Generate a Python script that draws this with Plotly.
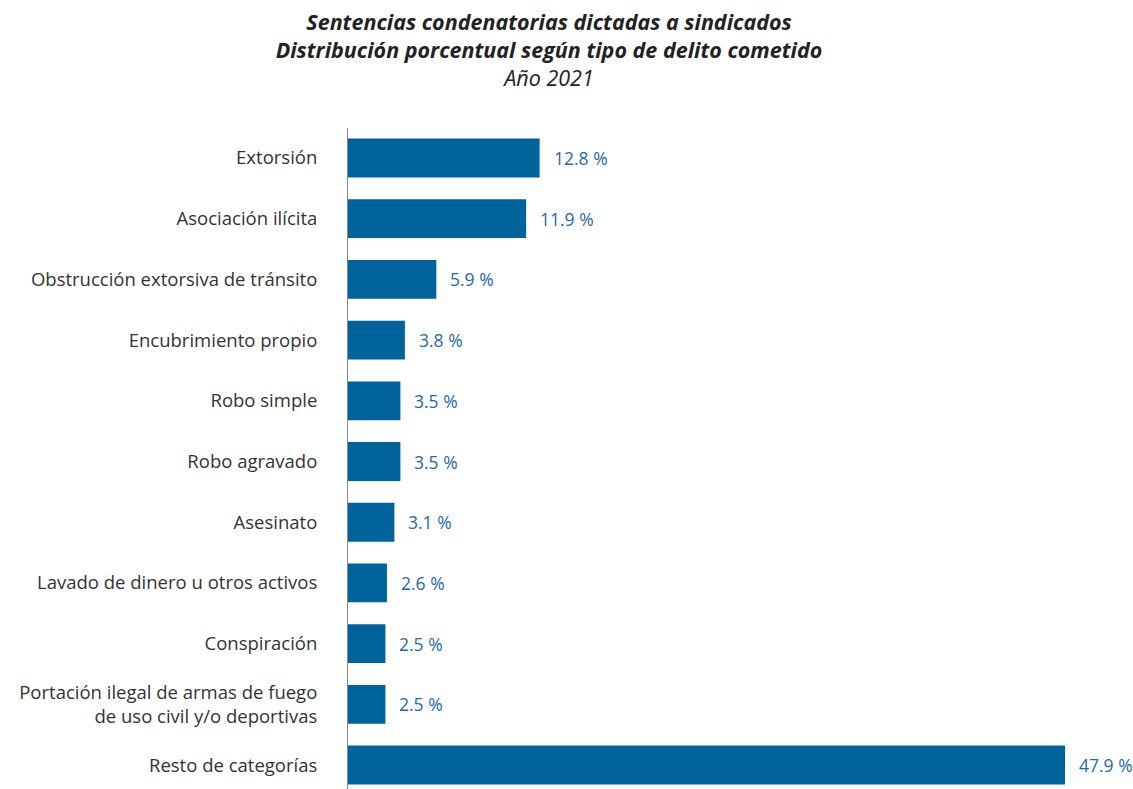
import plotly.graph_objects as go

categories = [
    "Extorsión",
    "Asociación ilícita",
    "Obstrucción extorsiva de tránsito",
    "Encubrimiento propio",
    "Robo simple",
    "Robo agravado",
    "Asesinato",
    "Lavado de dinero u otros activos",
    "Conspiración",
    "Portación ilegal de armas de fuego<br>de uso civil y/o deportivas",
    "Resto de categorías",
]
values = [12.8, 11.9, 5.9, 3.8, 3.5, 3.5, 3.1, 2.6, 2.5, 2.5, 47.9]

BAR = "#00639c"
LABEL = "#1f6aa6"
FONT = "Open Sans"

fig = go.Figure()
fig.add_trace(go.Bar(
    x=values, y=categories, orientation="h",
    marker=dict(color=BAR, line=dict(width=0)),
    width=0.64, hoverinfo="skip",
))

for c, v in zip(categories, values):
    fig.add_annotation(
        x=v, y=c, text=f"{v:.1f} %", showarrow=False,
        xanchor="left", xshift=12,
        font=dict(family=FONT, size=17.5, color=LABEL),
    )

fig.update_layout(
    width=1133, height=789,
    margin=dict(l=348, r=0, t=128, b=0, autoexpand=False),
    paper_bgcolor="white", plot_bgcolor="white",
    showlegend=False,
    font=dict(family=FONT, color="#333333"),
    title=dict(
        text="<b><i>Sentencias condenatorias dictadas a sindicados</i></b><br>"
             "<b><i>Distribución porcentual según tipo de delito cometido</i></b><br>"
             "<i>Año 2021</i>",
        x=549 / 1133, xanchor="center", xref="container",
        y=1 - 30 / 789, yanchor="middle", yref="container",
        font=dict(family=FONT, size=21.5, color="#222222"),
    ),
    xaxis=dict(
        range=[0, 785 / 14.97], visible=False, fixedrange=True, automargin=False,
    ),
    yaxis=dict(
        type="category",
        range=[10.395, -0.494],
        showline=True, linecolor="#888888", linewidth=1,
        showgrid=False, ticks="", zeroline=False,
        automargin=False,
        ticklabelstandoff=26,
        tickfont=dict(family=FONT, size=18.5, color="#333333"),
    ),
)

fig.write_html(
    "out.html",
    config={"displayModeBar": False},
    post_script="document.body.style.margin='0';document.body.style.padding='0';",
)
